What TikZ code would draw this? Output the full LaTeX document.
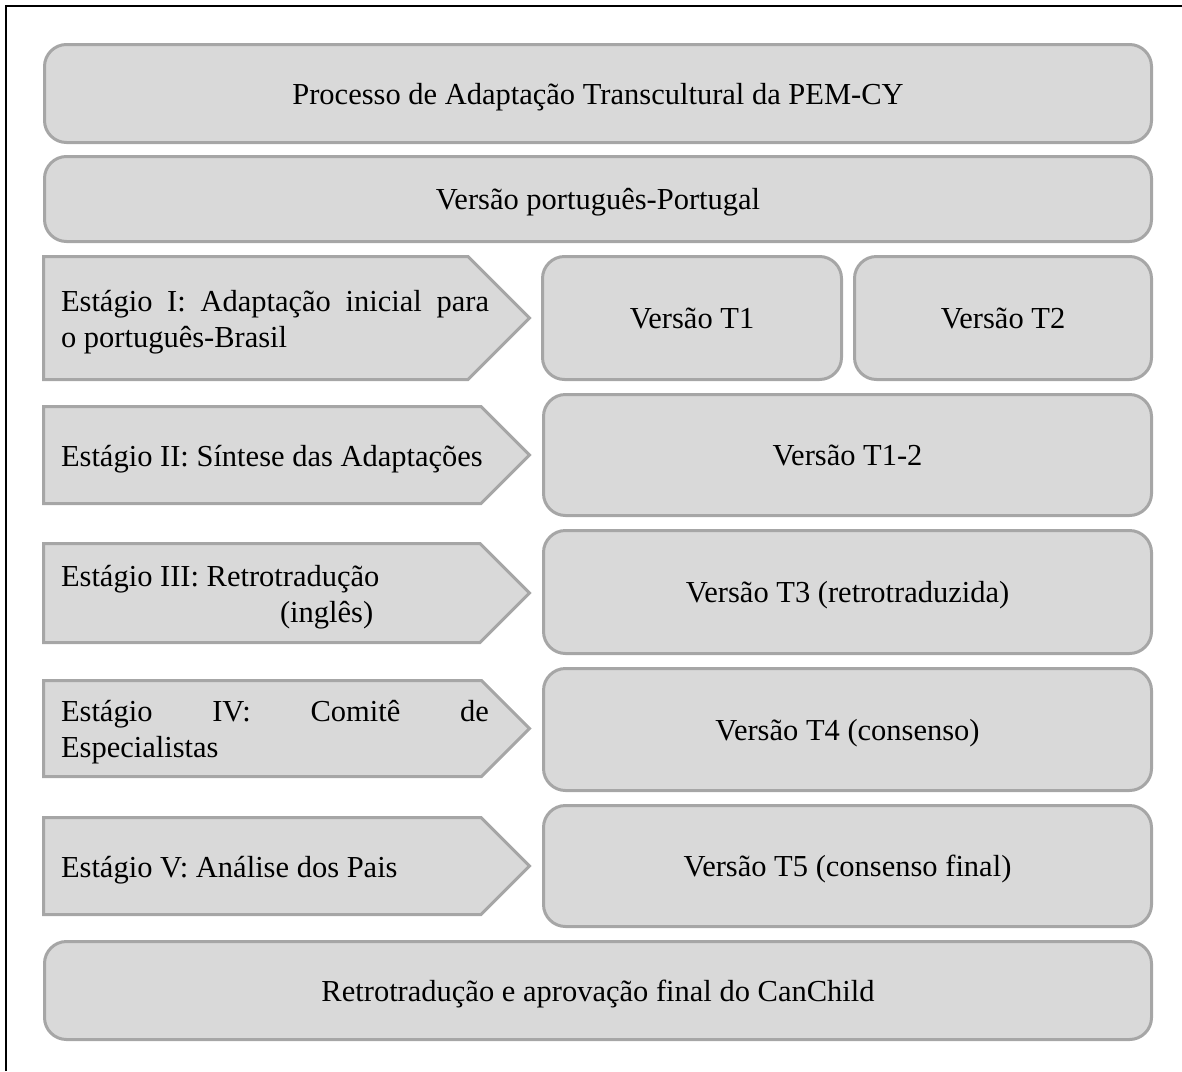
\documentclass[tikz,border=0pt]{standalone}
\usepackage{fontspec}
\setmainfont{Liberation Serif}
\begin{document}
\begin{tikzpicture}[x=0.5pt,y=-0.5pt,
  box/.style={draw=boxline,fill=boxfill,line width=1.5pt,rounded corners=11pt,
    inner sep=0pt,outer sep=0pt,font=\fsz,align=center,text height=10.5pt,text depth=0pt},
  chev/.style={draw=boxline,fill=boxfill,line width=1.5pt,line join=miter},
  lbl/.style={inner sep=0pt,outer sep=0pt,anchor=west,font=\fsz,align=left,yshift=-2pt},
]
\definecolor{boxline}{HTML}{A6A6A6}
\definecolor{boxfill}{HTML}{D9D9D9}
\newcommand{\fsz}{\fontsize{15.25}{18}\selectfont}
\newcommand{\jline}[1]{\hbox to 214pt{#1}}
\useasboundingbox (0,0) rectangle (1182,1071);
\draw[line width=1pt] (6,1071) -- (6,6) -- (1182,6);

% full-width boxes
\node[box,minimum width=553.5pt,minimum height=49pt] (title) at (598,93.5) {Processo de Adaptação Transcultural da PEM-CY};
\node[box,minimum width=553.5pt,minimum height=42.5pt] (ptpt) at (598,199) {Versão português-Portugal};
\node[box,minimum width=553.5pt,minimum height=49pt] (final) at (598,990.5) {Retrotradução e aprovação final do CanChild};

% right boxes
\node[box,minimum width=149.5pt,minimum height=61.5pt] (t1) at (692,318) {Versão T1};
\node[box,minimum width=148.5pt,minimum height=61.5pt] (t2) at (1003,318) {Versão T2};
\node[box,minimum width=304pt,minimum height=60.5pt] (t12) at (847.5,455) {Versão T1-2};
\node[box,minimum width=304pt,minimum height=61.5pt] (t3) at (847.5,592) {Versão T3 (retrotraduzida)};
\node[box,minimum width=304pt,minimum height=61pt] (t4) at (847.5,729.5) {Versão T4 (consenso)};
\node[box,minimum width=304pt,minimum height=60.5pt] (t5) at (847.5,866) {Versão T5 (consenso final)};

% chevrons
\draw[chev] (43.5,256.5) -- (468,256.5) -- (529.5,318) -- (468,379.5) -- (43.5,379.5) -- cycle;
\draw[chev] (43.5,406.5) -- (481,406.5) -- (529.5,455) -- (481,503.5) -- (43.5,503.5) -- cycle;
\draw[chev] (43.5,543.5) -- (480,543.5) -- (529.5,593) -- (480,642.5) -- (43.5,642.5) -- cycle;
\draw[chev] (43.5,680.5) -- (481.5,680.5) -- (529.5,728.5) -- (481.5,776.5) -- (43.5,776.5) -- cycle;
\draw[chev] (43.5,817.5) -- (481,817.5) -- (529.5,866) -- (481,914.5) -- (43.5,914.5) -- cycle;

\node[lbl] (s1) at (61,318) {\jline{Estágio\hfill I:\hfill Adaptação\hfill inicial\hfill para}\\o português-Brasil};
\node[lbl] (s2) at (61,455) {Estágio II: Síntese das Adaptações};
\node[lbl] (s3) at (61,593) {Estágio III: Retrotradução\\\hspace*{109.5pt}(inglês)};
\node[lbl] (s4) at (61,728.5) {\jline{Estágio\hfill IV:\hfill Comitê\hfill de}\\Especialistas};
\node[lbl] (s5) at (61,866) {Estágio V: Análise dos Pais};
\end{tikzpicture}
\end{document}
